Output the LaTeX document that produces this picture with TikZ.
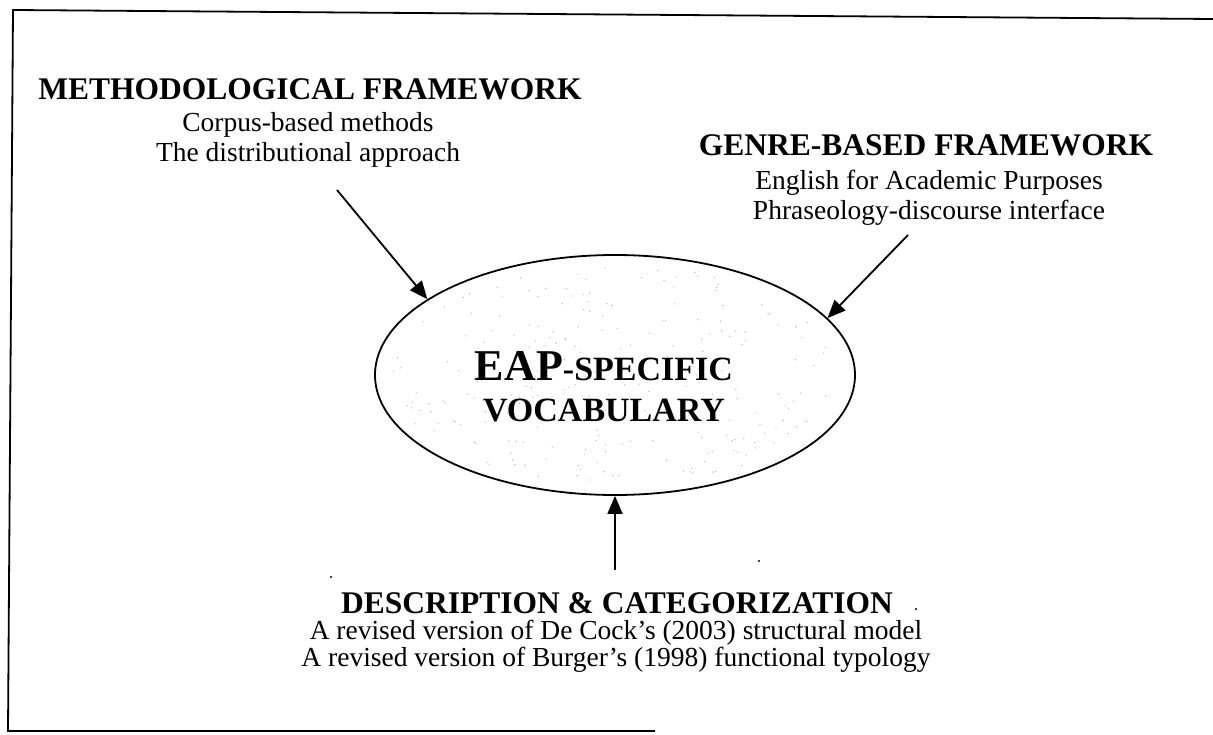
\documentclass[tikz,border=0pt]{standalone}
\usepackage{fontspec}
\setmainfont{Liberation Serif}
\usetikzlibrary{arrows.meta,shapes.geometric}

\begin{document}
\begin{tikzpicture}[x=1pt,y=-1pt,line width=1.8pt,
  arr/.style={-{Triangle[length=18pt,width=15pt]}},
  headtext/.style={font=\fontsize{31.5}{36}\selectfont\bfseries,inner sep=0pt,anchor=base},
  subtext/.style={font=\fontsize{27.5}{32}\selectfont,inner sep=0pt,anchor=base},
  smallcap/.style={font=\fontsize{34}{38}\selectfont\bfseries},
  speck/.style={fill=black,inner sep=0pt,minimum size=2.2pt,circle}]
\useasboundingbox (0,0) rectangle (1213,735);

% open frame
\coordinate (ftr) at (1213,19);
\coordinate (ftl) at (13,10);
\coordinate (fbl) at (8,731);
\coordinate (fbr) at (655,731);
\draw (ftr) -- (ftl) -- (fbl) -- (fbr);

% central ellipse with light stipple
\node[draw,ellipse,minimum width=480pt,minimum height=240pt,inner sep=0pt] (core) at (615,375) {};
\begin{scope}
  \clip (615,375) ellipse [x radius=238pt,y radius=118pt];
  \pgfmathsetseed{7}
  \foreach \i in {1,...,240}{
    \pgfmathsetmacro{\ang}{360*rnd}
    \pgfmathsetmacro{\rad}{sqrt(rnd)}
    \fill[gray!55] ({615+225*\rad*cos(\ang)},{375+110*\rad*sin(\ang)}) circle[radius=0.7pt];
  }
\end{scope}
\node[inner sep=0pt,anchor=base] (title) at (604,381)
  {{\fontsize{44}{48}\selectfont\bfseries EAP}{\fontsize{34}{38}\selectfont\bfseries -SPECIFIC}};
\node[smallcap,inner sep=0pt,anchor=base] (title2) at (604,421) {VOCABULARY};

% methodological framework
\node[headtext] (mfh) at (310,100) {METHODOLOGICAL FRAMEWORK};
\node[subtext] (mf1) at (308,132) {Corpus-based methods};
\node[subtext] (mf2) at (308,162) {The distributional approach};

% genre-based framework
\node[headtext] (gfh) at (926,156) {GENRE-BASED FRAMEWORK};
\node[subtext] (gf1) at (929,190) {English for Academic Purposes};
\node[subtext] (gf2) at (929,220) {Phraseology-discourse interface};

% description and categorization
\node[headtext] (dch) at (617,613) {DESCRIPTION \& CATEGORIZATION};
\node[subtext] (dc1) at (616,639) {A revised version of De Cock’s (2003) structural model};
\node[subtext] (dc2) at (616,666) {A revised version of Burger’s (1998) functional typology};

% connectors
\coordinate (mfa) at (337,190);
\coordinate (gfa) at (908,235);
\coordinate (dca) at (615,570);
\draw[arr] (mfa) -- (core.158.7);
\draw[arr] (gfa) -- (core.15.6);
\draw[arr] (dca) -- (core.south);

% stray specks
\node[speck] (s1) at (759,561) {};
\node[speck] (s2) at (916,609) {};
\node[speck] (s3) at (331,577) {};
\end{tikzpicture}
\end{document}
